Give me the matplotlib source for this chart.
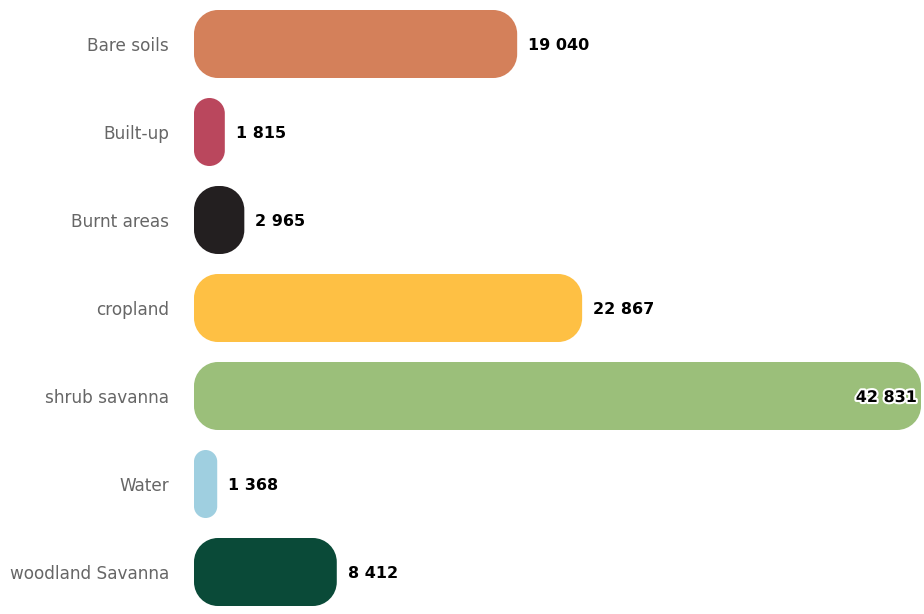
import matplotlib.pyplot as plt
import matplotlib.patheffects as pe
from matplotlib.path import Path
from matplotlib.patches import PathPatch

plt.rcParams["font.family"] = "DejaVu Sans"

# Land cover classes and their areas
categories = ["Bare soils", "Built-up", "Burnt areas", "cropland",
              "shrub savanna", "Water", "woodland Savanna"]
areas = [19040, 1815, 2965, 22867, 42831, 1368, 8412]
colors = ["#D4805A", "#BA475D", "#231F20", "#FEC044",
          "#9BBF7A", "#9FCFE0", "#0A4A38"]

W, H, DPI = 924, 614, 100
fig = plt.figure(figsize=(W / DPI, H / DPI), dpi=DPI)

left, right = 194, 921
row = 88
ax = fig.add_axes([left / W, 0, (right - left) / W, 1])
xmax = max(areas)
ax.set_xlim(0, xmax)
ax.set_ylim((H - 44) / row, -0.5)

# data units per pixel, used to keep the corners circular
ux = xmax / (right - left)
uy = 1 / row
bar_h = 68 / row
corner = 24
K = 0.5523  # cubic bezier approximation of a quarter circle


def rounded_bar(x0, y0, w, h, rx, ry):
    x1, y1 = x0 + w, y0 + h
    verts = [
        (x0 + rx, y0), (x1 - rx, y0),
        (x1 - rx + K * rx, y0), (x1, y0 + ry - K * ry), (x1, y0 + ry),
        (x1, y1 - ry),
        (x1, y1 - ry + K * ry), (x1 - rx + K * rx, y1), (x1 - rx, y1),
        (x0 + rx, y1),
        (x0 + rx - K * rx, y1), (x0, y1 - ry + K * ry), (x0, y1 - ry),
        (x0, y0 + ry),
        (x0, y0 + ry - K * ry), (x0 + rx - K * rx, y0), (x0 + rx, y0),
        (x0 + rx, y0),
    ]
    codes = ([Path.MOVETO, Path.LINETO] + [Path.CURVE4] * 3 + [Path.LINETO]
             + [Path.CURVE4] * 3 + [Path.LINETO] + [Path.CURVE4] * 3
             + [Path.LINETO] + [Path.CURVE4] * 3 + [Path.CLOSEPOLY])
    return Path(verts, codes)


for i, (v, c) in enumerate(zip(areas, colors)):
    r = min(corner, v / ux / 2, 68 / 2)
    path = rounded_bar(0, i - bar_h / 2, v, bar_h, r * ux, r * uy)
    ax.add_patch(PathPatch(path, facecolor=c, edgecolor="none"))

    label = f"{v:,}".replace(",", " ")
    if v == xmax:
        ax.text(v - 4 * ux, i + 1.5 * uy, label, ha="right", va="center",
                fontsize=11.5, fontweight="bold", color="black",
                path_effects=[pe.withStroke(linewidth=3, foreground="white")])
    else:
        ax.text(v + 11 * ux, i + 1.5 * uy, label, ha="left", va="center",
                fontsize=11.5, fontweight="bold", color="black")

ax.set_yticks(range(len(categories)))
ax.set_yticklabels(categories, fontsize=12.2, color="#666666")
ax.tick_params(axis="y", length=0, pad=18)
ax.set_xticks([])
for s in ax.spines.values():
    s.set_visible(False)

fig.savefig("out.png", dpi=DPI)
